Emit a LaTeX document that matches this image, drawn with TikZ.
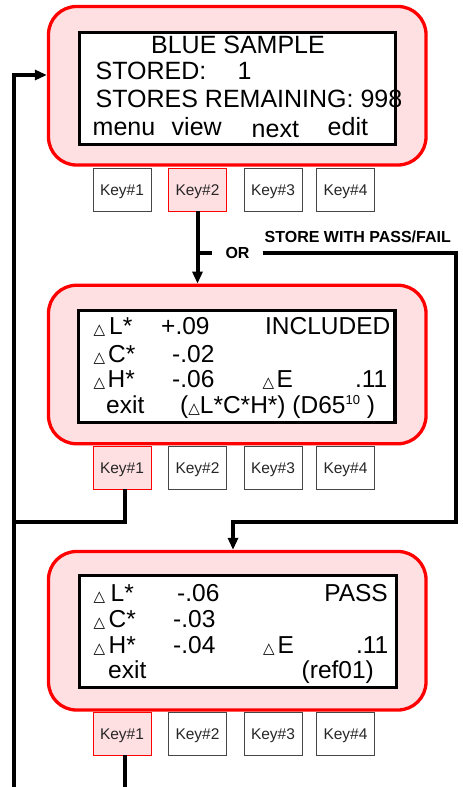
\documentclass[tikz,border=0pt]{standalone}
\usepackage{fontspec}
\setmainfont{Liberation Sans}
\newfontfamily\dvs{DejaVu Sans}
\usetikzlibrary{arrows.meta}
\definecolor{pinkfill}{RGB}{255,224,226}
\definecolor{keyline}{RGB}{70,70,70}
\newcommand\dtri{{\dvs\fontsize{15}{15}\selectfont △}}
\newcommand\supten{\raisebox{8.2pt}{\fontsize{13}{13}\selectfont 10}}
\begin{document}
\begin{tikzpicture}[x=1pt,y=-1pt,
 panel/.style={draw=red, line width=3.3pt, fill=pinkfill, rounded corners=28pt, minimum width=377.5pt, minimum height=158.5pt, inner sep=0pt},
 lcd/.style={draw=black, line width=3.3pt, fill=white, minimum width=316.5pt, minimum height=112pt, inner sep=0pt},
 key/.style={draw=keyline, line width=0.9pt, fill=white, minimum width=58pt, minimum height=43pt, inner sep=0pt, font=\fontsize{15.5}{16}\selectfont, text height=11pt, text depth=0pt, text=black!85},
 keyon/.style={key, draw=red, fill=pinkfill},
 big/.style={font=\fontsize{25}{30}\selectfont, inner sep=0pt, anchor=base west},
 bigc/.style={big, anchor=base},
 mid/.style={font=\fontsize{24.5}{29}\selectfont, inner sep=0pt, anchor=base west},
 midr/.style={mid, anchor=base east},
 tri/.style={inner sep=0pt, anchor=base west},
 wire/.style={line width=4pt},
 arr/.style={wire, -{Triangle[length=12pt,width=10pt]}},
 bold/.style={font=\bfseries\fontsize{16}{16}\selectfont, inner sep=0pt}
]
\useasboundingbox (0,0) rectangle (463,787);

% ---------- panel 1 ----------
\node[panel] (p1) at (237.25,85.75) {};
\node[lcd] (l1) at (237.5,88.5) {};
\node[bigc] (t11) at (238,53) {BLUE SAMPLE};
\node[big] (t12) at (95.5,79) {STORED:};
\node[big] (t13) at (237.3,79) {1};
\node[big] (t14) at (95.5,107) {STORES REMAINING: 998};
\node[big] (t15) at (92.5,135) {menu};
\node[big] (t16) at (171.5,135) {view};
\node[big] (t17) at (251.5,137) {next};
\node[big] (t18) at (327.5,135) {edit};
\node[key]   (k11) at (122,189.5)   {Key\#1};
\node[keyon] (k12) at (197.5,189.5) {Key\#2};
\node[key]   (k13) at (273,189.5)   {Key\#3};
\node[key]   (k14) at (345.5,189.5) {Key\#4};

% ---------- panel 2 ----------
\node[panel] (p2) at (237.25,364.5) {};
\node[lcd] (l2) at (236.75,366.25) {};
\node[tri] (d21) at (93.5,334) {\dtri};
\node[mid] (a21) at (109,334) {L*};
\node[mid] (b21) at (161,334) {+.09};
\node[midr] (c21) at (390.5,334) {INCLUDED};
\node[tri] (d22) at (93.5,362) {\dtri};
\node[mid] (a22) at (108,362) {C*};
\node[mid] (b22) at (172,362) {-.02};
\node[tri] (d23) at (93.5,387) {\dtri};
\node[mid] (a23) at (107.5,387) {H*};
\node[mid] (b23) at (172,387) {-.06};
\node[tri] (e23) at (262.5,387) {\dtri};
\node[mid] (f23) at (276.5,387) {E};
\node[midr] (g23) at (387.5,387) {.11};
\node[mid] (a24) at (106,413) {exit};
\node[mid] (b24) at (180,413) {(\dtri L*C*H*) (D65\supten\ )};
\node[keyon] (k21) at (122,467.5)   {Key\#1};
\node[key]   (k22) at (197.5,467.5) {Key\#2};
\node[key]   (k23) at (273,467.5)   {Key\#3};
\node[key]   (k24) at (345.5,467.5) {Key\#4};

% ---------- panel 3 ----------
\node[panel] (p3) at (237.25,630.75) {};
\node[lcd] (l3) at (238,631.75) {};
\node[tri] (d31) at (93.5,601) {\dtri};
\node[mid] (a31) at (110.5,601) {L*};
\node[mid] (b31) at (177,601) {-.06};
\node[midr] (c31) at (388,601) {PASS};
\node[tri] (d32) at (93.5,627) {\dtri};
\node[mid] (a32) at (108.5,627) {C*};
\node[mid] (b32) at (173,627) {-.03};
\node[tri] (d33) at (93.5,653) {\dtri};
\node[mid] (a33) at (108.5,653) {H*};
\node[mid] (b33) at (173,653) {-.04};
\node[tri] (e33) at (263,653) {\dtri};
\node[mid] (f33) at (277.5,653) {E};
\node[midr] (g33) at (388.5,653) {.11};
\node[mid] (a34) at (108,678) {exit};
\node[mid] (b34) at (301.5,678) {(ref01)};
\node[keyon] (k31) at (122,733.5)   {Key\#1};
\node[key]   (k32) at (197.5,733.5) {Key\#2};
\node[key]   (k33) at (273,733.5)   {Key\#3};
\node[key]   (k34) at (345.5,733.5) {Key\#4};

% ---------- connectors ----------
\coordinate (lb) at (14.3,790);
\coordinate (lt) at (14.3,75);
\draw[arr] (lb) -- (lt) -- (lt -| p1.west);

\coordinate (k21s) at ([xshift=2.5pt]k21.south);
\coordinate (j2) at (14.3,521.5);
\draw[wire] (k21s) |- (j2);

\coordinate (k31s) at ([xshift=2.8pt]k31.south);
\draw[wire] (k31s) -- (k31s |- lb);

\draw[arr] (k12.south) -- (k12.south |- p2.north);

\node[bold, inner xsep=13pt] (or) at (237.5,253) {OR};
\node[bold, anchor=base west] (lab) at (264.5,242) {STORE WITH PASS/FAIL};
\draw[wire] (k12.south |- or) -- (or.west);
\coordinate (r1) at (455.5,253);
\coordinate (r2) at (233,521.5);
\draw[arr] (or.east) -- (r1) |- (r2) -- (r2 |- p3.north);
\end{tikzpicture}
\end{document}
